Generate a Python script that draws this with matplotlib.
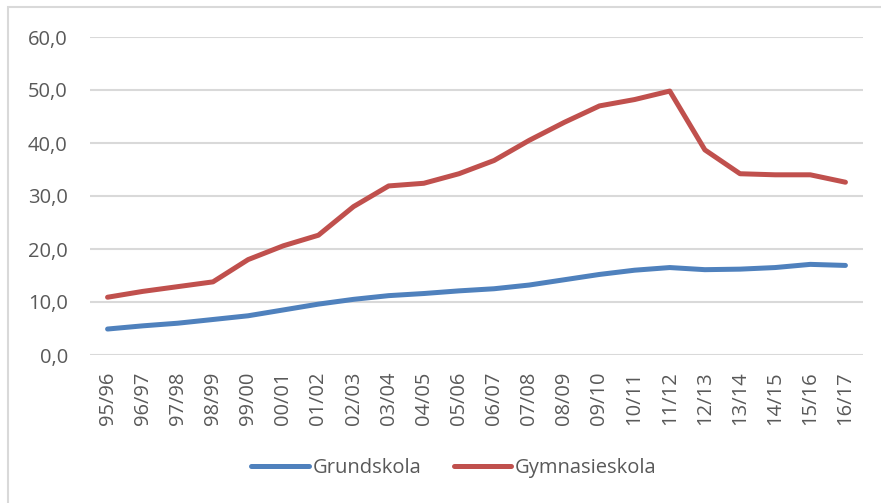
import matplotlib
matplotlib.use('Agg')
import matplotlib.pyplot as plt
from matplotlib.patches import Rectangle

# school years
years = ['95/96', '96/97', '97/98', '98/99', '99/00', '00/01', '01/02', '02/03',
         '03/04', '04/05', '05/06', '06/07', '07/08', '08/09', '09/10', '10/11',
         '11/12', '12/13', '13/14', '14/15', '15/16', '16/17']

grundskola = [4.9, 5.5, 6.0, 6.7, 7.4, 8.5, 9.6, 10.5, 11.2, 11.6, 12.1, 12.5,
              13.2, 14.2, 15.2, 16.0, 16.5, 16.1, 16.2, 16.5, 17.1, 16.9]
gymnasieskola = [10.9, 12.0, 12.9, 13.8, 18.0, 20.6, 22.6, 28.0, 31.9, 32.4, 34.2, 36.7,
                 40.5, 43.9, 47.0, 48.2, 49.8, 38.7, 34.2, 34.0, 34.0, 32.6]

yticks = [0, 10, 20, 30, 40, 50, 60]

plt.rcParams['font.family'] = ['Open Sans', 'DejaVu Sans']
txt = '#595959'

fig = plt.figure(figsize=(8.81, 5.03), dpi=100)
ax = fig.add_axes([90/881, 1-355/503, (863-90)/881, (355-37)/503])

# chart frame like in excel
fig.patches.append(Rectangle((8/881, -0.1), 1.2, 1-7/503+0.1, transform=fig.transFigure,
                             fill=False, edgecolor='#D9D9D9', linewidth=1.5))

x = range(len(years))
ax.plot(x, grundskola, color='#4F81BD', lw=3.6, solid_capstyle='round', label='Grundskola')
ax.plot(x, gymnasieskola, color='#C0504D', lw=3.6, solid_capstyle='round', label='Gymnasieskola')

ax.set_xlim(-0.5, len(years)-0.5)
ax.set_ylim(0, 60)
ax.set_yticks(yticks)
ax.set_yticklabels([f'{v:.1f}'.replace('.', ',') for v in yticks])
ax.set_xticks(list(x))
ax.set_xticklabels(years, rotation=90)
ax.grid(axis='y', color='#D9D9D9', lw=1.5)
ax.set_axisbelow(True)
for s in ax.spines.values():
    s.set_visible(False)
ax.tick_params(axis='both', length=0, labelsize=14.5, labelcolor=txt)
ax.tick_params(axis='y', pad=16)
ax.tick_params(axis='x', pad=12)

leg = fig.legend(loc='center', bbox_to_anchor=(454/881, 1-468/503), ncol=2, frameon=False,
                 fontsize=14.5, handlelength=2.85, handletextpad=0.2, columnspacing=1.6)
for t in leg.get_texts():
    t.set_color(txt)

fig.savefig('out.png', dpi=100)
